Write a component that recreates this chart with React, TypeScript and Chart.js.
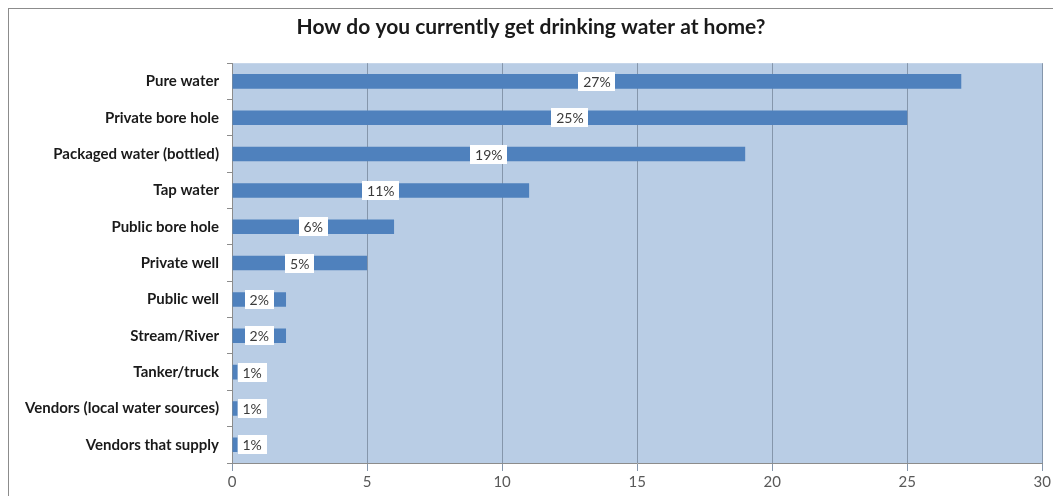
import React, { useEffect, useRef } from "react";
import { Chart, registerables } from "chart.js";

Chart.register(...registerables);

const categories = [
  "Pure water",
  "Private bore hole",
  "Packaged water (bottled)",
  "Tap water",
  "Public bore hole",
  "Private well",
  "Public well",
  "Stream/River",
  "Tanker/truck",
  "Vendors (local water sources)",
  "Vendors that supply",
];
const values = [27, 25, 19, 11, 6, 5, 2, 2, 0.2, 0.2, 0.2];
const valueLabels = ["27%", "25%", "19%", "11%", "6%", "5%", "2%", "2%", "1%", "1%", "1%"];
const xTicks = [0, 5, 10, 15, 20, 25, 30];

const FONT = "Lato, 'Open Sans', sans-serif";

const bgPlugin = {
  id: "plotBg",
  beforeDraw(chart: any) {
    const { ctx, chartArea } = chart;
    ctx.save();
    ctx.fillStyle = "#b9cde5";
    ctx.fillRect(chartArea.left, chartArea.top, chartArea.right - chartArea.left, chartArea.bottom - chartArea.top);
    ctx.restore();
  },
};

const labelPlugin = {
  id: "valueBoxes",
  afterDatasetsDraw(chart: any) {
    const { ctx } = chart;
    const meta = chart.getDatasetMeta(0);
    ctx.save();
    ctx.font = `14px ${FONT}`;
    ctx.textAlign = "center";
    ctx.textBaseline = "middle";
    meta.data.forEach((bar: any, i: number) => {
      const txt = valueLabels[i];
      const tw = ctx.measureText(txt).width;
      const boxW = tw + 10;
      const boxH = 19;
      const base = bar.base;
      const center = (bar.x + base) / 2;
      const cx = Math.max(center, base + 5 + boxW / 2);
      ctx.fillStyle = "#ffffff";
      ctx.fillRect(Math.round(cx - boxW / 2), Math.round(bar.y - boxH / 2), Math.round(boxW), boxH);
      ctx.fillStyle = "#3a3a3a";
      ctx.fillText(txt, cx, bar.y + 1);
    });
    ctx.restore();
  },
};

export default function App() {
  const ref = useRef<HTMLCanvasElement>(null);
  useEffect(() => {
    document.documentElement.style.overflow = "hidden";
    if (!ref.current) return;
    const chart = new Chart(ref.current, {
      type: "bar",
      data: {
        labels: categories,
        datasets: [
          {
            data: values,
            backgroundColor: "#4f81bd",
            barPercentage: 0.4,
            categoryPercentage: 1.0,
          },
        ],
      },
      options: {
        indexAxis: "y",
        animation: false,
        responsive: false,
        layout: { padding: { left: 0, right: 0, top: 0, bottom: 0 } },
        plugins: {
          legend: { display: false },
          tooltip: { enabled: false },
          title: {
            display: true,
            text: "How do you currently get drinking water at home?",
            color: "#1a1a1a",
            font: { family: FONT, size: 21, weight: "bold" },
            padding: { top: 6, bottom: 23 },
          },
        },
        scales: {
          x: {
            min: 0,
            max: 30,
            afterBuildTicks: (s: any) => {
              s.ticks = xTicks.map((v) => ({ value: v }));
            },
            afterFit: (s: any) => {
              s.height = 33;
            },
            grid: { color: "#8596ab", tickLength: 8 },
            border: { color: "#8c8c8c" },
            ticks: { color: "#595959", font: { family: FONT, size: 15 }, padding: 2 },
          },
          y: {
            afterFit: (s: any) => {
              s.width = 223;
            },
            grid: { display: true, drawOnChartArea: false, offset: true, tickLength: 5, color: "#8c8c8c" },
            border: { color: "#8c8c8c" },
            ticks: { color: "#1a1a1a", font: { family: FONT, size: 15, weight: "bold" }, padding: 8 },
          },
        },
      },
      plugins: [bgPlugin, labelPlugin],
    });
    return () => chart.destroy();
  }, []);
  return (
    <div
      style={{
        width: 1045,
        height: 488,
        boxSizing: "border-box",
        borderTop: "1px solid #8c8c8c",
        borderLeft: "1px solid #8c8c8c",
        overflow: "hidden",
      }}
    >
      <canvas ref={ref} width={1044} height={487} style={{ display: "block" }} />
    </div>
  );
}
